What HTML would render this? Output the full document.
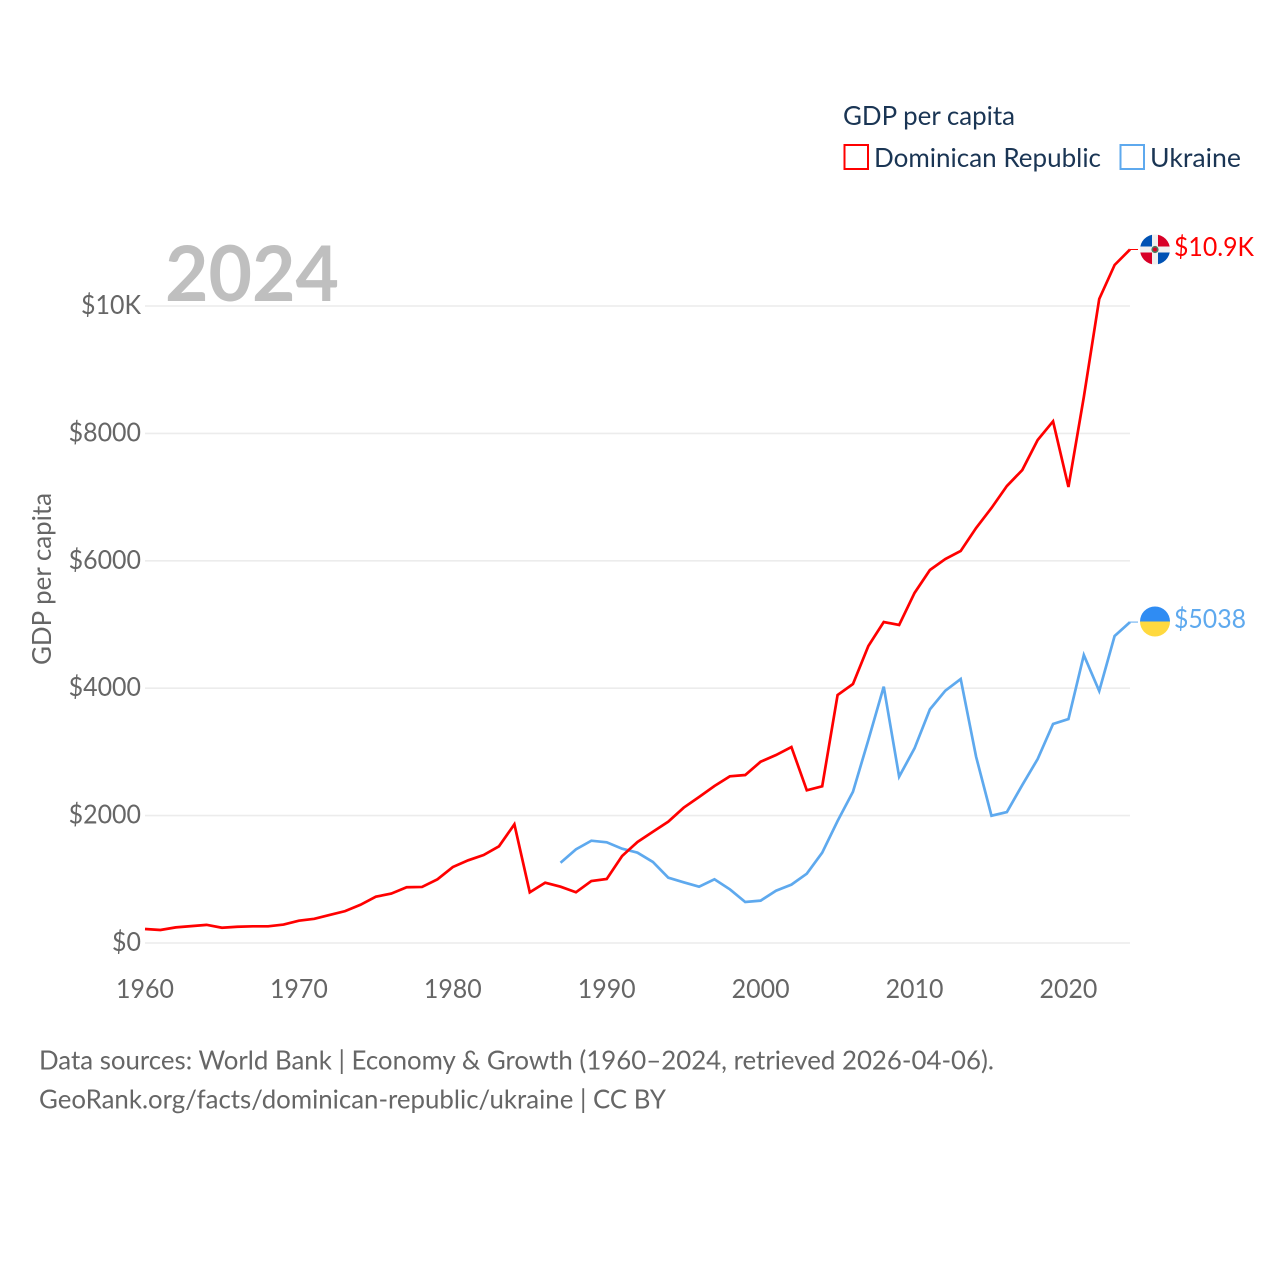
<!DOCTYPE html>
<html lang="en">
<head>
<meta charset="utf-8">
<title>GDP per capita: Dominican Republic and Ukraine</title>
<style>
html,body{margin:0;padding:0;background:#fff;width:1280px;height:1280px;overflow:hidden}
svg{display:block}
text{font-family:"Lato","Carlito","Liberation Sans",sans-serif}
</style>
</head>
<body>
<svg id="chart" xmlns="http://www.w3.org/2000/svg" width="1280" height="1280" viewBox="0 0 1280 1280">
  <defs>
    <clipPath id="clip-dr"><circle id="clip-dr-circle" cx="1155" cy="249.5" r="15"></circle></clipPath>
    <clipPath id="clip-ua"><circle id="clip-ua-circle" cx="1155" cy="621.5" r="15"></circle></clipPath>
  </defs>
  <rect width="1280" height="1280" fill="#ffffff"></rect>
  <g id="grid"></g>
  <text x="165" y="301" font-size="77" font-weight="700" fill="#bfbfbf" textLength="174" lengthAdjust="spacingAndGlyphs">2024</text>
  <g id="y-ticks"></g>
  <g id="x-ticks"></g>
  <text transform="translate(51,665) rotate(-90)" font-size="26" fill="#666666" textLength="172" lengthAdjust="spacingAndGlyphs">GDP per capita</text>
  <g id="series"></g>

  <g>
    <text x="843" y="125" font-size="26" fill="#1a3554" textLength="172" lengthAdjust="spacingAndGlyphs">GDP per capita</text>
    <g>
      <rect x="844.5" y="145" width="23.5" height="24" fill="#ffffff" stroke="#ff0000" stroke-width="2"></rect>
      <text x="874" y="167" font-size="26" fill="#1a3554" textLength="227" lengthAdjust="spacingAndGlyphs">Dominican Republic</text>
    </g>
    <g>
      <rect x="1120.5" y="145" width="23.5" height="24" fill="#ffffff" stroke="#5ea9ee" stroke-width="2"></rect>
      <text x="1150" y="167" font-size="26" fill="#1a3554" textLength="91" lengthAdjust="spacingAndGlyphs">Ukraine</text>
    </g>
  </g>

  <g clip-path="url(#clip-dr)">
    <rect x="1140" y="234.5" width="30" height="30" fill="#f0f0f0"></rect>
    <rect x="1140" y="234.5" width="12" height="12" fill="#0052b4"></rect>
    <rect x="1158" y="234.5" width="12" height="12" fill="#d80027"></rect>
    <rect x="1140" y="252.5" width="12" height="12" fill="#d80027"></rect>
    <rect x="1158" y="252.5" width="12" height="12" fill="#0052b4"></rect>
    <circle cx="1155" cy="249.5" r="3.6" fill="#4f7a5c"></circle>
    <circle cx="1155" cy="249.5" r="2" fill="#d80027"></circle>
  </g>
  <g clip-path="url(#clip-ua)">
    <rect x="1140" y="606.5" width="30" height="15" fill="#2f8cf3"></rect>
    <rect x="1140" y="621.5" width="30" height="15" fill="#ffd93f"></rect>
  </g>

  <text x="1174" y="256" font-size="26" fill="#ff0000" textLength="80" lengthAdjust="spacingAndGlyphs">$10.9K</text>
  <text x="1174" y="628" font-size="26" fill="#5ea9ee" textLength="72" lengthAdjust="spacingAndGlyphs">$5038</text>

  <g>
    <text x="39" y="1069.5" font-size="26" fill="#666666" textLength="955" lengthAdjust="spacingAndGlyphs">Data sources: World Bank | Economy &amp; Growth (1960–2024, retrieved 2026-04-06).</text>
    <text x="39" y="1108.5" font-size="26" fill="#666666" textLength="627" lengthAdjust="spacingAndGlyphs">GeoRank.org/facts/dominican-republic/ukraine | CC BY</text>
  </g>
</svg>
<script>
const yTickValues = [0, 2000, 4000, 6000, 8000, 10000];
const yTickLabels = ["$0", "$2000", "$4000", "$6000", "$8000", "$10K"];
const xTickValues = [1960, 1970, 1980, 1990, 2000, 2010, 2020];
const drStartYear = 1960;
const drValues = [220, 204, 245, 265, 285, 240, 255, 262, 262, 290, 350, 380, 440, 500, 600, 727, 775, 875, 880, 1000, 1193, 1298, 1381, 1518, 1863, 796, 947, 884, 796, 973, 1005, 1366, 1586, 1747, 1905, 2124, 2292, 2465, 2617, 2637, 2846, 2951, 3077, 2397, 2460, 3893, 4066, 4663, 5039, 4992, 5495, 5856, 6028, 6154, 6515, 6829, 7174, 7425, 7896, 8190, 7159, 8571, 10110, 10644, 10887];
const uaStartYear = 1987;
const uaValues = [1260, 1470, 1606, 1581, 1480, 1418, 1272, 1025, 953, 884, 1000, 843, 644, 665, 821, 916, 1088, 1418, 1915, 2375, 3187, 4024, 2611, 3056, 3668, 3961, 4144, 2925, 1998, 2056, 2480, 2888, 3438, 3516, 4520, 3956, 4819, 5038];

const NS = "http://www.w3.org/2000/svg";
const plotLeft = 145, plotRight = 1130, plotBottom = 943, plotTop10k = 306;
const digitSqueeze = 0.96;
const xScale = function (year) { return plotLeft + (year - 1960) * (plotRight - plotLeft) / 64; };
const yScale = function (value) { return plotBottom - value * (plotBottom - plotTop10k) / 10000; };

const gridGroup = document.getElementById("grid");
const yGroup = document.getElementById("y-ticks");
yTickValues.forEach(function (value, i) {
  const line = document.createElementNS(NS, "line");
  
  
  line.setAttribute("x1", plotLeft);
  line.setAttribute("x2", plotRight);
  line.setAttribute("y1", yScale(value));
  line.setAttribute("y2", yScale(value));
  line.setAttribute("stroke", "#ececec");
  line.setAttribute("stroke-width", "1.6");
  gridGroup.appendChild(line);

  const label = document.createElementNS(NS, "text");
  
  
  label.setAttribute("x", 141);
  label.setAttribute("y", yScale(value) + 8);
  label.setAttribute("text-anchor", "end");
  label.setAttribute("font-size", "26");
  label.setAttribute("fill", "#666666");
  label.textContent = yTickLabels[i];
  yGroup.appendChild(label);
  label.setAttribute("textLength", (label.getComputedTextLength() * digitSqueeze).toFixed(2));
  label.setAttribute("lengthAdjust", "spacingAndGlyphs");
});

const xGroup = document.getElementById("x-ticks");
xTickValues.forEach(function (year) {
  const label = document.createElementNS(NS, "text");
  
  
  label.setAttribute("x", xScale(year));
  label.setAttribute("y", 998);
  label.setAttribute("text-anchor", "middle");
  label.setAttribute("font-size", "26");
  label.setAttribute("fill", "#666666");
  label.textContent = String(year);
  xGroup.appendChild(label);
  label.setAttribute("textLength", (label.getComputedTextLength() * digitSqueeze).toFixed(2));
  label.setAttribute("lengthAdjust", "spacingAndGlyphs");
});

const seriesGroup = document.getElementById("series");
function buildPoints(values, startYear) {
  return values.map(function (value, i) {
    return xScale(startYear + i).toFixed(2) + "," + yScale(value).toFixed(2);
  }).join(" ");
}

const uaLine = document.createElementNS(NS, "polyline");


uaLine.setAttribute("points", buildPoints(uaValues, uaStartYear));
uaLine.setAttribute("fill", "none");
uaLine.setAttribute("stroke", "#5ea9ee");
uaLine.setAttribute("stroke-width", "2.7");
uaLine.setAttribute("stroke-linejoin", "miter");
seriesGroup.appendChild(uaLine);

const drLine = document.createElementNS(NS, "polyline");


drLine.setAttribute("points", buildPoints(drValues, drStartYear));
drLine.setAttribute("fill", "none");
drLine.setAttribute("stroke", "#ff0000");
drLine.setAttribute("stroke-width", "2.7");
drLine.setAttribute("stroke-linejoin", "miter");
seriesGroup.appendChild(drLine);

const drConnector = document.createElementNS(NS, "line");


drConnector.setAttribute("x1", plotRight);
drConnector.setAttribute("x2", plotRight + 8);
drConnector.setAttribute("y1", yScale(drValues[drValues.length - 1]));
drConnector.setAttribute("y2", yScale(drValues[drValues.length - 1]));
drConnector.setAttribute("stroke", "#ff0000");
drConnector.setAttribute("stroke-width", "1");
seriesGroup.appendChild(drConnector);

const uaConnector = document.createElementNS(NS, "line");


uaConnector.setAttribute("x1", plotRight);
uaConnector.setAttribute("x2", plotRight + 8);
uaConnector.setAttribute("y1", yScale(uaValues[uaValues.length - 1]));
uaConnector.setAttribute("y2", yScale(uaValues[uaValues.length - 1]));
uaConnector.setAttribute("stroke", "#5ea9ee");
uaConnector.setAttribute("stroke-width", "1");
seriesGroup.appendChild(uaConnector);
</script>
</body>
</html>
